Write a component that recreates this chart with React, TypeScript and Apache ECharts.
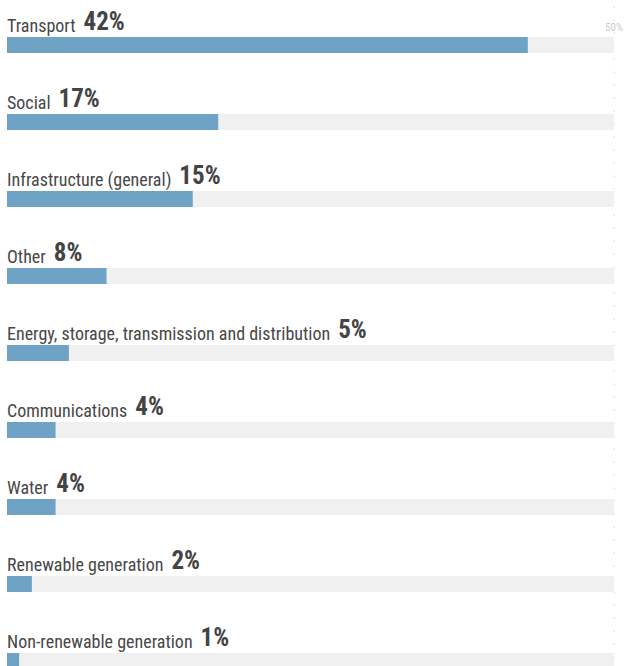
import React, { useEffect, useRef } from "react";
import * as echarts from "echarts";

const categories = [
  "Transport",
  "Social",
  "Infrastructure (general)",
  "Other",
  "Energy, storage, transmission and distribution",
  "Communications",
  "Water",
  "Renewable generation",
  "Non-renewable generation",
];
const values = [42.9, 17.4, 15.3, 8.2, 5.1, 4.0, 4.0, 2.05, 1.0];
const valueLabels = ["42%", "17%", "15%", "8%", "5%", "4%", "4%", "2%", "1%"];
const axisMax = 50;

const FONT = "'Roboto Condensed', 'Liberation Sans Narrow', 'DejaVu Sans Condensed', Roboto, sans-serif";

export default function App() {
  const ref = useRef<HTMLDivElement>(null);
  useEffect(() => {
    if (!ref.current) return;
    const chart = echarts.init(ref.current, undefined, { renderer: "svg" });
    chart.setOption({
      animation: false,
      grid: { left: 7, right: 13, top: 6.5, bottom: 0.5, containLabel: false, outerBoundsMode: "none" },
      xAxis: {
        type: "value",
        min: 0,
        max: axisMax,
        interval: axisMax,
        position: "top",
        offset: -28,
        axisLine: { show: false },
        axisTick: { show: false },
        axisLabel: {
          margin: 2,
          fontSize: 11,
          color: "#c8ccd0",
          fontFamily: FONT,
          align: "center",
          formatter: (v: number) => (v === axisMax ? v + "%" : ""),
        },
        splitLine: {
          show: true,
          showMinLine: false,
          lineStyle: { color: "#e2e2e2", type: [1.5, 11.5], width: 1.5 },
        },
      },
      yAxis: {
        type: "category",
        data: categories,
        inverse: true,
        axisLine: { show: false },
        axisTick: { show: false },
        axisLabel: { show: false },
      },
      series: [
        {
          type: "bar",
          data: values,
          barWidth: 16,
          showBackground: true,
          backgroundStyle: { color: "#f0f0f0" },
          itemStyle: { color: "#6fa3c5" },
          label: {
            show: true,
            position: [0, -3],
            align: "left",
            verticalAlign: "bottom",
            formatter: (p: any) => `{n|${categories[p.dataIndex]}}{v|${valueLabels[p.dataIndex]}}`,
            rich: {
              n: { fontSize: 18, color: "#474747", fontFamily: FONT, verticalAlign: "bottom", lineHeight: 28 },
              v: {
                fontSize: 25,
                fontWeight: "bold",
                color: "#444",
                fontFamily: FONT,
                padding: [0, 0, 0, 8],
                verticalAlign: "bottom",
                lineHeight: 28,
              },
            },
          },
        },
      ],
    });
    return () => chart.dispose();
  }, []);
  return (
    <div style={{ position: "absolute", left: 0, top: 0, width: 627, height: 666, overflow: "hidden" }}>
      <div ref={ref} style={{ width: 627, height: 700 }} />
    </div>
  );
}
